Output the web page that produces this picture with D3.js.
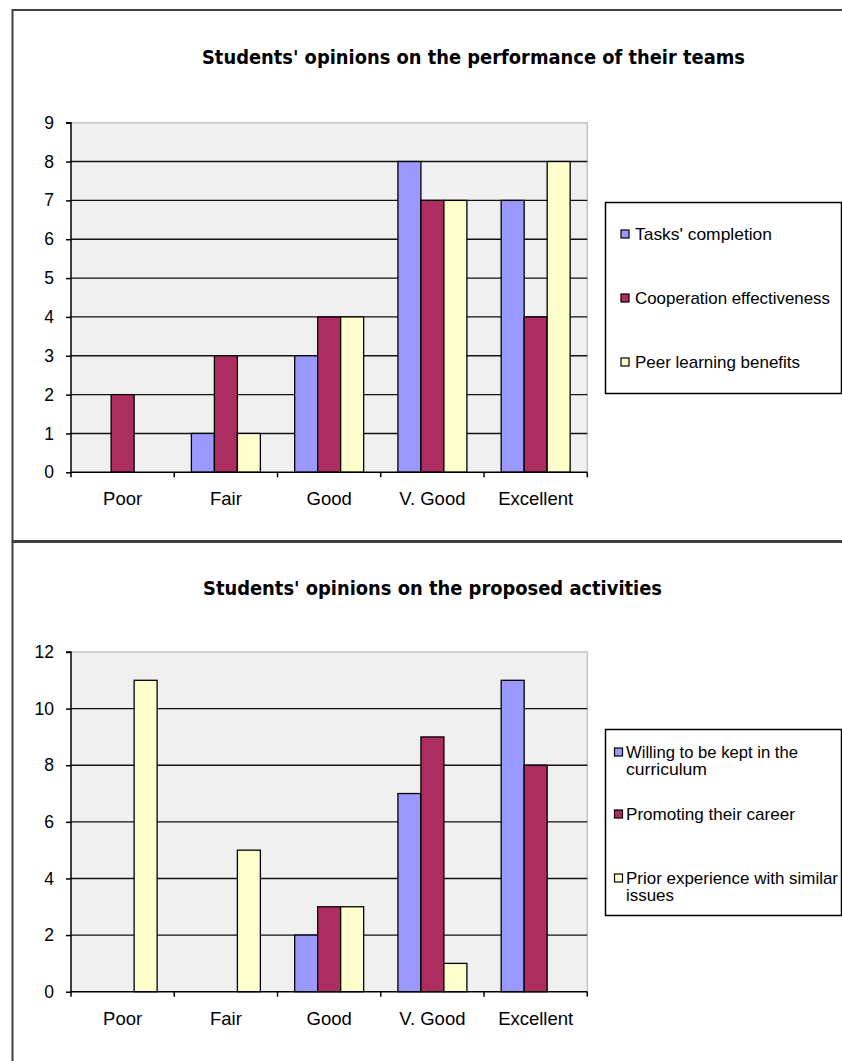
<!DOCTYPE html>
<html><head><meta charset="utf-8">
<script src="https://cdn.jsdelivr.net/npm/d3@7"></script>
<style>body{margin:0;background:#fff} svg{display:block}</style>
</head><body>
<script>
// ---------- data ----------
const categories = ["Poor", "Fair", "Good", "V. Good", "Excellent"];

const topTitle = "Students' opinions on the performance of their teams";
const topSeriesNames = [["Tasks' completion"], ["Cooperation effectiveness"], ["Peer learning benefits"]];
const topTasks = [0, 1, 3, 8, 7];
const topCooperation = [2, 3, 4, 7, 4];
const topPeer = [0, 1, 4, 7, 8];
const topTicks = [0, 1, 2, 3, 4, 5, 6, 7, 8, 9];

const bottomTitle = "Students' opinions on the proposed activities";
const bottomSeriesNames = [["Willing to be kept in the", "curriculum"], ["Promoting their career"], ["Prior experience with similar", "issues"]];
const bottomWilling = [0, 0, 2, 7, 11];
const bottomPromoting = [0, 0, 3, 9, 8];
const bottomPrior = [11, 5, 3, 1, 0];
const bottomTicks = [0, 2, 4, 6, 8, 10, 12];

const seriesColors = ["#9999FF", "#AE2D60", "#FFFFCC"];

// ---------- layout ----------
const W = 842, H = 1061;
const svg = d3.select("body").append("svg").attr("width", W).attr("height", H);
const FONT = "'Liberation Sans', Arial, sans-serif";

function drawPanel(cfg) {
  const g = svg.append("g");
  g.append("rect").attr("x", 12.5).attr("y", cfg.panelTop).attr("width", 860).attr("height", cfg.panelH)
    .attr("fill", "#fff").attr("stroke", "#404040").attr("stroke-width", 2);

  g.append("text").attr("x", cfg.titleX).attr("y", cfg.titleY)
    .attr("font-family", "'DejaVu Sans', Verdana, sans-serif").attr("font-weight", "bold")
    .attr("font-size", 19.5).attr("fill", "#000")
    .attr("textLength", cfg.titleW).attr("lengthAdjust", "spacingAndGlyphs")
    .text(cfg.title);

  const x0 = 71, x1 = 587.3;
  const x = d3.scaleBand().domain(categories).range([x0, x1]).paddingInner(0.332).paddingOuter(0.166);
  const xs = d3.scaleBand().domain(d3.range(cfg.series.length)).range([0, x.bandwidth()]);
  const y = d3.scaleLinear().domain([0, d3.max(cfg.ticks)]).range([cfg.yBottom, cfg.yTop]);

  g.append("rect").attr("x", x0).attr("y", cfg.yTop).attr("width", x1 - x0).attr("height", cfg.yBottom - cfg.yTop)
    .attr("fill", "#F0F0F0");
  g.append("path").attr("d", `M${x0},${cfg.yTop}H${x1}V${cfg.yBottom}`)
    .attr("fill", "none").attr("stroke", "#C4C4C4").attr("stroke-width", 1.5);

  g.selectAll(".grid").data(cfg.ticks.filter(t => t > 0 && t < d3.max(cfg.ticks)))
    .join("line").attr("x1", x0).attr("x2", x1)
    .attr("y1", d => y(d)).attr("y2", d => y(d))
    .attr("stroke", "#111").attr("stroke-width", 1.4);

  cfg.series.forEach((vals, si) => {
    g.selectAll(null).data(vals.map((v, i) => ({ v, c: categories[i] })).filter(d => d.v > 0))
      .join("rect")
      .attr("x", d => x(d.c) + xs(si))
      .attr("y", d => y(d.v))
      .attr("width", xs.bandwidth())
      .attr("height", d => y(0) - y(d.v))
      .attr("fill", seriesColors[si])
      .attr("stroke", "#000").attr("stroke-width", 1.3);
  });

  const ya = g.append("g").attr("transform", `translate(${x0},0)`)
    .call(d3.axisLeft(y).tickValues(cfg.ticks).tickSize(5).tickPadding(12).tickFormat(d3.format("d")));
  ya.attr("font-size", null).attr("font-family", null);
  ya.select(".domain").attr("stroke", "#000").attr("stroke-width", 1.5).attr("d", `M-5,${y(d3.max(cfg.ticks))}H0V${cfg.yBottom}`);
  ya.selectAll(".tick line").attr("stroke", "#000").attr("stroke-width", 1.5);
  ya.selectAll(".tick text").style("font-family", FONT).style("font-size", "17.5px").attr("fill", "#000");

  g.append("line").attr("x1", x0).attr("x2", x1).attr("y1", cfg.yBottom).attr("y2", cfg.yBottom)
    .attr("stroke", "#000").attr("stroke-width", 1.5);
  const step = x.step();
  g.selectAll(".xt").data(d3.range(categories.length + 1)).join("line")
    .attr("x1", i => x0 + i * step).attr("x2", i => x0 + i * step)
    .attr("y1", cfg.yBottom).attr("y2", cfg.yBottom + 5)
    .attr("stroke", "#000").attr("stroke-width", 1.5);
  g.selectAll(".xl").data(categories).join("text")
    .attr("x", d => x(d) + x.bandwidth() / 2).attr("y", cfg.yBottom + 33)
    .attr("text-anchor", "middle").attr("font-family", FONT).attr("font-size", 18.5).attr("fill", "#000")
    .text(d => d);

  const L = cfg.legend;
  g.append("rect").attr("x", 605.5).attr("y", L.top).attr("width", 236).attr("height", L.h)
    .attr("fill", "#fff").attr("stroke", "#000").attr("stroke-width", 1.5);
  cfg.names.forEach((lines, si) => {
    const cy = L.ys[si];
    g.append("rect").attr("x", L.sqX).attr("y", cy - 4).attr("width", 8).attr("height", 8)
      .attr("fill", seriesColors[si]).attr("stroke", "#000").attr("stroke-width", 1.2);
    lines.forEach((t, li) => {
      g.append("text").attr("x", L.textX).attr("y", cy + 6 + li * 17)
        .attr("font-family", FONT).attr("font-size", 17).attr("fill", "#000")
        .attr("textLength", L.widths[si][li]).attr("lengthAdjust", "spacingAndGlyphs")
        .text(t);
    });
  });
}

drawPanel({
  panelTop: 10, panelH: 531,
  title: topTitle, titleX: 202, titleY: 64, titleW: 543,
  yTop: 122.7, yBottom: 472.3, ticks: topTicks,
  series: [topTasks, topCooperation, topPeer],
  names: topSeriesNames,
  legend: { top: 202.5, h: 191, sqX: 621, textX: 635, ys: [234, 298, 362],
            widths: [[137], [195], [165]] }
});

drawPanel({
  panelTop: 542, panelH: 540,
  title: bottomTitle, titleX: 203, titleY: 595, titleW: 459,
  yTop: 652, yBottom: 991.7, ticks: bottomTicks,
  series: [bottomWilling, bottomPromoting, bottomPrior],
  names: bottomSeriesNames,
  legend: { top: 729.5, h: 186, sqX: 614.5, textX: 626, ys: [752, 814, 878],
            widths: [[172, 81], [169], [212, 48]] }
});
</script>
</body></html>
